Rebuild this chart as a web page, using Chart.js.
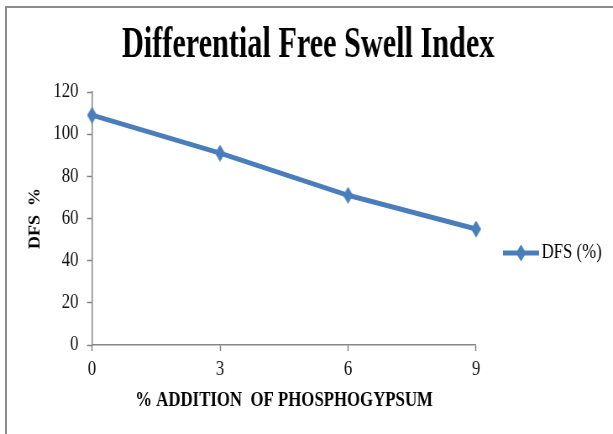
<!DOCTYPE html>
<html>
<head>
<meta charset="utf-8">
<title>Differential Free Swell Index</title>
<script src="https://cdn.jsdelivr.net/npm/chart.js@4.4.1/dist/chart.umd.min.js"></script>
<style>
    html, body { margin: 0; padding: 0; background: #fff; overflow: hidden; }
    #frame {
        position: absolute; left: 5px; top: 6px; width: 660px; height: 460px;
        border-left: 2px solid #8c8c8c; border-top: 2px solid #8c8c8c;
    }
    /* the picture is horizontally condensed, so draw wide and squeeze */
    #wrap {
        position: absolute; left: 0; top: 0; width: 730px; height: 434px;
        transform: scaleX(0.8397); transform-origin: 0 0;
    }
</style>
</head>
<body>
<div id="frame"></div>
<div id="wrap"><canvas id="chart"></canvas></div>
<script>
const TITLE = "Differential Free Swell Index";
const X_TITLE = "% ADDITION  OF PHOSPHOGYPSUM";
const Y_TITLE = "DFS  %";
const SERIES_LABEL = "DFS (%)";

const additions = ["0", "3", "6", "9"];
const dfsValues = [109, 91, 71, 55];
const yTicks = [0, 20, 40, 60, 80, 100, 120];

const FONT = "'Liberation Serif', 'Times New Roman', serif";
const LINE_BLUE = "#4A7EBB";
const AXIS_GREY = "#868686";
const TITLE_CENTER_X = 367;
const TITLE_SQUEEZE = 0.8;

const drawDiamond = (ctx, cx, cy, w, h) => {
    ctx.beginPath();
    ctx.moveTo(cx, cy - h / 2);
    ctx.lineTo(cx + w / 2, cy);
    ctx.lineTo(cx, cy + h / 2);
    ctx.lineTo(cx - w / 2, cy);
    ctx.closePath();
    ctx.fill();
};

// diamond marker for the data points
const pointMarker = (() => {
    const c = document.createElement("canvas");
    c.width = 12;
    c.height = 17;
    const ctx = c.getContext("2d");
    ctx.fillStyle = LINE_BLUE;
    drawDiamond(ctx, 6, 8.5, 12, 17);
    return c;
})();

// line + diamond for the legend
const legendMarker = (() => {
    const c = document.createElement("canvas");
    c.width = 48;
    c.height = 18;
    const ctx = c.getContext("2d");
    ctx.fillStyle = LINE_BLUE;
    ctx.fillRect(0, 6.5, 43, 5);
    drawDiamond(ctx, 21.5, 9, 12, 17);
    return c;
})();

// the title is narrower than the rest of the text
const squeezeTitle = {
    id: "squeezeTitle",
    afterInit(chart) {
        const block = chart.titleBlock;
        const drawBlock = block.draw.bind(block);
        block.draw = () => {
            const ctx = chart.ctx;
            const cx = (block.left + block.right) / 2;
            ctx.save();
            ctx.translate(TITLE_CENTER_X, 0);
            ctx.scale(TITLE_SQUEEZE, 1);
            ctx.translate(-cx, 0);
            drawBlock();
            ctx.restore();
        };
    },
};

const axisGrid = {
    drawOnChartArea: false,
    drawTicks: true,
    tickLength: 6,
    tickColor: AXIS_GREY,
    tickWidth: 1.5,
};

new Chart(document.getElementById("chart"), {
    type: "line",
    data: {
        labels: additions,
        datasets: [
            {
                label: SERIES_LABEL,
                data: dfsValues,
                borderColor: LINE_BLUE,
                backgroundColor: LINE_BLUE,
                borderWidth: 5,
                pointStyle: pointMarker,
                pointRadius: 8,
                tension: 0,
                clip: false,
            },
        ],
    },
    options: {
        responsive: true,
        maintainAspectRatio: false,
        animation: false,
        events: [],
        layout: { padding: { left: 32, right: 3.4, top: 0, bottom: 21 } },
        plugins: {
            title: {
                display: true,
                text: TITLE,
                color: "#000",
                font: { family: FONT, size: 45, weight: "bold" },
                padding: { top: 18, bottom: 20 },
            },
            legend: {
                position: "right",
                title: {
                    display: true,
                    text: " ",
                    font: { size: 10 },
                    padding: { top: 0, bottom: 81 },
                },
                labels: {
                    usePointStyle: true,
                    pointStyle: legendMarker,
                    pointStyleWidth: 24,
                    padding: 44,
                    color: "#000",
                    font: { family: FONT, size: 20 },
                },
            },
            tooltip: { enabled: false },
        },
        scales: {
            x: {
                type: "category",
                offset: false,
                grid: axisGrid,
                border: { display: true, color: AXIS_GREY, width: 1.5 },
                ticks: {
                    color: "#111",
                    padding: 7,
                    maxRotation: 0,
                    autoSkip: false,
                    font: { family: FONT, size: 20 },
                },
                title: {
                    display: true,
                    text: X_TITLE,
                    color: "#000",
                    padding: { top: 0, bottom: 0 },
                    font: { family: FONT, size: 20, weight: "bold" },
                },
            },
            y: {
                min: yTicks[0],
                max: yTicks[yTicks.length - 1],
                grid: axisGrid,
                border: { display: true, color: AXIS_GREY, width: 1.5 },
                ticks: {
                    stepSize: yTicks[1] - yTicks[0],
                    color: "#111",
                    padding: 10,
                    font: { family: FONT, size: 20 },
                },
                title: {
                    display: true,
                    text: Y_TITLE,
                    color: "#000",
                    padding: { top: 0, bottom: 0 },
                    font: { family: FONT, size: 18, weight: "bold" },
                },
            },
        },
    },
    plugins: [squeezeTitle],
});
</script>
</body>
</html>
